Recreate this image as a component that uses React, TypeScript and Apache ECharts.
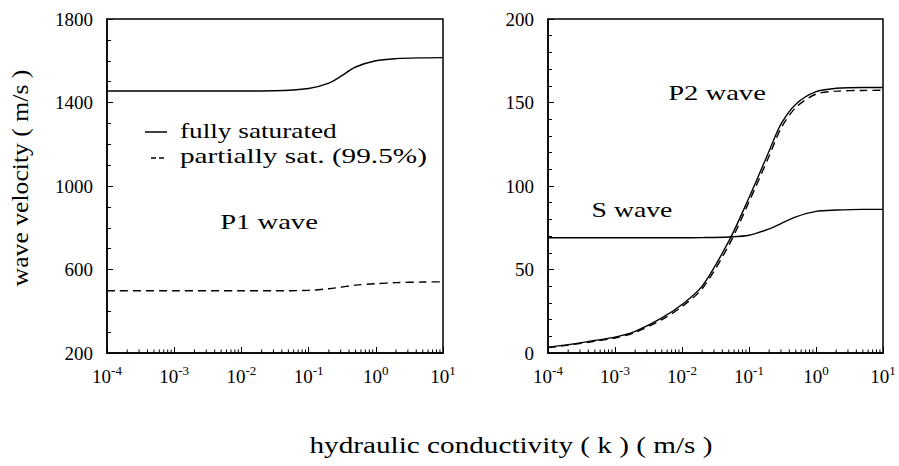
import React, { useEffect, useRef } from "react";
import * as echarts from "echarts";

// ---- data ----
const kLeft = [1e-4, 1e-3, 1e-2, 0.03, 0.1, 0.2, 0.3, 0.5, 1, 2, 5, 10];
const p1Full = [1455, 1455, 1455, 1456, 1467, 1493, 1525, 1570, 1600, 1610, 1614, 1615];
const p1Partial = [498, 498, 498, 498, 500, 508, 515, 525, 532, 537, 540, 541];

const kRight = [1e-4, 2e-4, 5e-4, 1e-3, 2e-3, 5e-3, 1e-2, 2e-2, 5e-2, 0.1, 0.2, 0.3, 0.5, 1, 2, 5, 10];
const p2Full = [3.5, 5, 7.5, 9.5, 13, 21, 29, 40, 67, 93, 121, 137, 149, 156.5, 158.5, 159, 159];
const p2Partial = [3.2, 4.7, 7, 9, 12.3, 20, 27.8, 38.5, 64.5, 90.5, 118, 134.5, 147, 155, 156.8, 157.2, 157.3];
const sWave = [69, 69, 69, 69, 69, 69, 69, 69.1, 69.5, 70.5, 74.3, 77.5, 81.5, 84.8, 85.6, 86, 86];

const leftYTicks = [200, 600, 1000, 1400, 1800];
const rightYTicks = [0, 50, 100, 150, 200];
const decades = [1e-4, 1e-3, 1e-2, 1e-1, 1];
const minorMultipliers = [2, 3, 4, 5, 6, 7, 8, 9];

const FAMILY = "Liberation Serif";
const FONT = '"Liberation Serif", serif';

export default function App() {
  const ref = useRef<HTMLDivElement>(null);
  useEffect(() => {
    if (!ref.current) return;
    const chart = echarts.init(ref.current, null, { renderer: "svg" });
    const leftBase = leftYTicks[0];
    const leftInterval = leftYTicks[1] - leftYTicks[0];
    const minorK: number[] = [];
    decades.forEach((d) => minorMultipliers.forEach((m) => minorK.push(m * d)));

    const xLabel = {
      margin: 11,
      formatter: (v: number) => `{b|10}{s|${Math.round(Math.log10(v))}}`,
      rich: {
        b: { fontFamily: FAMILY, fontSize: 19, color: "#000", lineHeight: 24 },
        s: { fontFamily: FAMILY, fontSize: 13, color: "#000", lineHeight: 14, verticalAlign: "top" },
      },
    };
    const makeX = (gi: number) => ({
      type: "log",
      logBase: 10,
      gridIndex: gi,
      min: 1e-4,
      max: 10,
      axisLine: { lineStyle: { color: "#000", width: 1.5 } },
      axisTick: { inside: true, length: 6, lineStyle: { color: "#000", width: 1 } },
      splitLine: { show: false },
      axisLabel: xLabel,
    });
    const yLabel = { fontFamily: FAMILY, fontSize: 19, color: "#000", margin: 14 };

    const tickRenderer = (params: any, api: any) => {
      const p = api.coord([api.value(0), api.value(1)]);
      return {
        type: "line",
        shape: { x1: p[0], y1: p[1], x2: p[0], y2: p[1] - 3.5 },
        style: { stroke: "#000", lineWidth: 1 },
      };
    };

    const line = (name: string, xi: number, ks: number[], vals: number[], dashed: boolean, offset = 0) => ({
      name,
      type: "line",
      xAxisIndex: xi,
      yAxisIndex: xi,
      data: ks.map((k, i) => [k, vals[i] - offset]),
      symbol: "none",
      smooth: 0.3,
      lineStyle: { color: "#000", width: 1.4, type: dashed ? [8, 5] : "solid" },
      z: 3,
    });

    const txt = (text: string, x: number, y: number, size: number, sx: number, align = "center", rotation = 0) => ({
      type: "text",
      x,
      y,
      rotation,
      scaleX: sx,
      style: {
        text,
        font: `${size}px ${FONT}`,
        fill: "#000",
        textAlign: align,
        align,
        textVerticalAlign: "middle",
        verticalAlign: "middle",
      },
    });

    chart.setOption({
      animation: false,
      backgroundColor: "#fff",
      grid: [
        { left: 107, top: 19, width: 336, height: 334, show: true, borderColor: "#000", borderWidth: 1.5, backgroundColor: "transparent" },
        { left: 548, top: 19, width: 335, height: 334, show: true, borderColor: "#000", borderWidth: 1.5, backgroundColor: "transparent" },
      ],
      xAxis: [makeX(0), makeX(1)],
      yAxis: [
        {
          type: "value",
          gridIndex: 0,
          min: 0,
          max: leftYTicks[leftYTicks.length - 1] - leftBase,
          interval: leftInterval,
          axisLine: { show: true, lineStyle: { color: "#000", width: 1.5 } },
          axisTick: { show: true, inside: true, length: 6, lineStyle: { color: "#000" } },
          minorTick: { show: true, splitNumber: 4, length: 4, lineStyle: { color: "#000" } },
          splitLine: { show: false },
          axisLabel: { ...yLabel, formatter: (v: number) => String(v + leftBase) },
        },
        {
          type: "value",
          gridIndex: 1,
          min: rightYTicks[0],
          max: rightYTicks[rightYTicks.length - 1],
          interval: rightYTicks[1] - rightYTicks[0],
          axisLine: { show: true, lineStyle: { color: "#000", width: 1.5 } },
          axisTick: { show: true, inside: true, length: 6, lineStyle: { color: "#000" } },
          minorTick: { show: true, splitNumber: 5, length: 4, lineStyle: { color: "#000" } },
          splitLine: { show: false },
          axisLabel: yLabel,
        },
      ],
      series: [
        line("fully saturated", 0, kLeft, p1Full, false, leftBase),
        line("partially sat. (99.5%)", 0, kLeft, p1Partial, true, leftBase),
        line("P2 fully saturated", 1, kRight, p2Full, false),
        line("P2 partially sat.", 1, kRight, p2Partial, true),
        line("S wave", 1, kRight, sWave, false),
        {
          type: "custom",
          xAxisIndex: 0,
          yAxisIndex: 0,
          silent: true,
          clip: false,
          data: minorK.map((k) => [k, 0]),
          renderItem: tickRenderer,
        },
        {
          type: "custom",
          xAxisIndex: 1,
          yAxisIndex: 1,
          silent: true,
          clip: false,
          data: minorK.map((k) => [k, rightYTicks[0]]),
          renderItem: tickRenderer,
        },
      ],
      graphic: [
        txt("hydraulic conductivity ( k ) ( m/s )", 511, 445, 24, 1.217),
        txt("wave velocity ( m/s )", 20, 178, 23, 1.117, "center", Math.PI / 2),
        { type: "line", shape: { x1: 145, y1: 132, x2: 167, y2: 132 }, style: { stroke: "#000", lineWidth: 1.5 } },
        { type: "line", shape: { x1: 151, y1: 158, x2: 166, y2: 158 }, style: { stroke: "#000", lineWidth: 1.5, lineDash: [5, 3] } },
        txt("fully saturated", 180, 130, 22, 1.24, "left"),
        txt("partially sat. (99.5%)", 180, 156, 22, 1.33, "left"),
        txt("P1 wave", 269, 222, 22, 1.3),
        txt("P2 wave", 717, 93, 22, 1.3),
        txt("S wave", 632, 210, 22, 1.26),
      ],
    });
    return () => chart.dispose();
  }, []);
  return <div ref={ref} style={{ position: "absolute", left: 0, top: 0, width: 899, height: 466 }} />;
}
